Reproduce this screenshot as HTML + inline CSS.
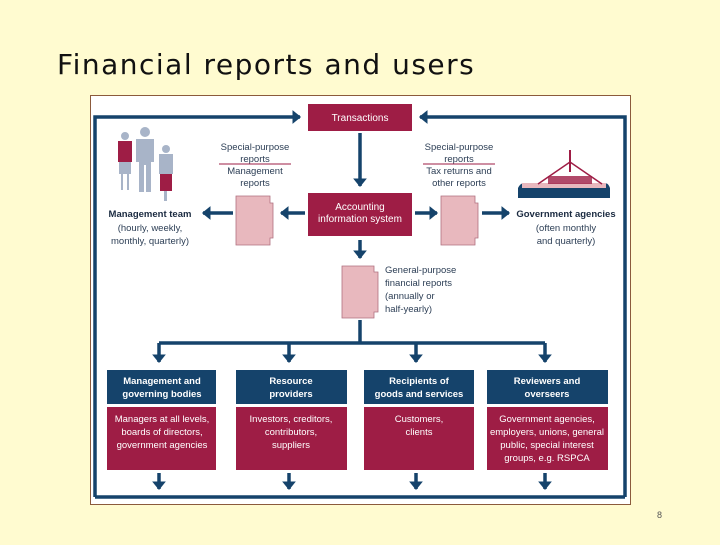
<!DOCTYPE html>
<html><head><meta charset="utf-8"><style>
body{margin:0;width:720px;height:540px;background:#FFFBD0;overflow:hidden;font-family:"Liberation Sans",sans-serif}
</style></head><body>
<svg width="720" height="540" xmlns="http://www.w3.org/2000/svg" font-family="Liberation Sans, sans-serif">
<defs><marker id="a" markerWidth="4" markerHeight="4" refX="2.2" refY="2" orient="auto" markerUnits="strokeWidth"><path d="M0,0 L2.5,2 L0,4 Z" fill="#15436B"/></marker></defs>
<text x="57" y="74" font-size="28" fill="#111" font-family="DejaVu Sans, sans-serif" letter-spacing="1.5">Financial reports and users</text>
<rect x="90.5" y="95.5" width="540" height="409" fill="#fff" stroke="#8B5A3C" stroke-width="1"/>
<g stroke="#15436B" stroke-width="3.5" fill="none">
<polyline points="95,497 95,117 300,117" marker-end="url(#a)"/>
<polyline points="625,497 625,117 420,117" marker-end="url(#a)"/>
<line x1="95" y1="497" x2="625" y2="497"/>
<line x1="360" y1="133" x2="360" y2="186" marker-end="url(#a)"/>
<line x1="305" y1="213" x2="281" y2="213" marker-end="url(#a)"/>
<line x1="233" y1="213" x2="203" y2="213" marker-end="url(#a)"/>
<line x1="415" y1="213" x2="437" y2="213" marker-end="url(#a)"/>
<line x1="482" y1="213" x2="509" y2="213" marker-end="url(#a)"/>
<line x1="360" y1="240" x2="360" y2="258" marker-end="url(#a)"/>
<line x1="360" y1="320" x2="360" y2="343"/>
<line x1="159" y1="343" x2="545" y2="343"/>
<line x1="159" y1="343" x2="159" y2="362" marker-end="url(#a)"/>
<line x1="289" y1="343" x2="289" y2="362" marker-end="url(#a)"/>
<line x1="416" y1="343" x2="416" y2="362" marker-end="url(#a)"/>
<line x1="545" y1="343" x2="545" y2="362" marker-end="url(#a)"/>
<line x1="159" y1="473" x2="159" y2="489" marker-end="url(#a)"/>
<line x1="289" y1="473" x2="289" y2="489" marker-end="url(#a)"/>
<line x1="416" y1="473" x2="416" y2="489" marker-end="url(#a)"/>
<line x1="545" y1="473" x2="545" y2="489" marker-end="url(#a)"/>
</g>
<rect x="308" y="104" width="104" height="27" fill="#9E1D45"/>
<text x="360" y="121" font-size="10" fill="#fff" text-anchor="middle">Transactions</text>
<rect x="308" y="193" width="104" height="43" fill="#9E1D45"/>
<text x="360" y="210" font-size="10" fill="#fff" text-anchor="middle">Accounting</text>
<text x="360" y="222" font-size="10" fill="#fff" text-anchor="middle">information system</text>
<g fill="#E8B8BE" stroke="#B07080" stroke-width="0.8">
<path d="M236,196 H270 V203 H273 V238 H270 V245 H236 Z"/>
<path d="M441,196 H475 V203 H478 V238 H475 V245 H441 Z"/>
<path d="M342,266 H374 V272 H378 V312 H374 V318 H342 Z"/>
</g>
<g font-size="9.5" fill="#2C3E55" text-anchor="middle">
<text x="255" y="150">Special-purpose</text><text x="255" y="162">reports</text>
<line x1="219" y1="164" x2="291" y2="164" stroke="#9E1D45" stroke-width="1"/>
<text x="255" y="174">Management</text><text x="255" y="186">reports</text>
<text x="459" y="150">Special-purpose</text><text x="459" y="162">reports</text>
<line x1="423" y1="164" x2="495" y2="164" stroke="#9E1D45" stroke-width="1"/>
<text x="459" y="174">Tax returns and</text><text x="459" y="186">other reports</text>
<text x="150" y="217" font-weight="bold" fill="#1a2a40">Management team</text>
<text x="150" y="231">(hourly, weekly,</text><text x="150" y="244">monthly, quarterly)</text>
<text x="566" y="217" font-weight="bold" fill="#1a2a40">Government agencies</text>
<text x="566" y="231">(often monthly</text><text x="566" y="244">and quarterly)</text>
</g>
<g font-size="9.5" fill="#2C3E55">
<text x="385" y="273">General-purpose</text><text x="385" y="286">financial reports</text>
<text x="385" y="299">(annually or</text><text x="385" y="312">half-yearly)</text>
</g>
<g>
<circle cx="125" cy="136" r="4" fill="#A8B4C8"/><rect x="118" y="141" width="14" height="21" fill="#9E1D45"/><rect x="119" y="162" width="12" height="12" fill="#A8B4C8"/><rect x="121" y="174" width="2" height="16" fill="#A8B4C8"/><rect x="127" y="174" width="2" height="16" fill="#A8B4C8"/>
<circle cx="145" cy="132" r="5" fill="#A8B4C8"/><path d="M136,139 H154 V162 H151 V192 H146 V165 H144 V192 H139 V162 H136 Z" fill="#A8B4C8"/>
<circle cx="166" cy="149" r="4" fill="#A8B4C8"/><rect x="159" y="154" width="14" height="20" fill="#A8B4C8"/><rect x="160" y="174" width="12" height="17" fill="#9E1D45"/><rect x="164" y="191" width="3" height="10" fill="#A8B4C8"/>
</g>
<g>
<rect x="518" y="188" width="92" height="10" fill="#15436B"/>
<path d="M518,188 Q522,180 528,186 Q534,180 540,188 Z M590,188 Q596,180 602,186 Q607,180 610,188 Z" fill="#15436B"/>
<rect x="522" y="183" width="84" height="5" fill="#E8B8BE"/>
<rect x="548" y="176" width="44" height="8" fill="#9E1D45" opacity="0.8"/>
<path d="M538,184 L570,162 L602,184" fill="none" stroke="#9E1D45" stroke-width="1.5"/>
<rect x="569" y="150" width="2" height="22" fill="#9E1D45"/>
</g>
<g font-weight="bold" font-size="9.5" fill="#fff" text-anchor="middle">
<rect x="107" y="370" width="109" height="34" fill="#15436B"/>
<text x="162" y="384">Management and</text><text x="162" y="397">governing bodies</text>
<rect x="236" y="370" width="111" height="34" fill="#15436B"/>
<text x="291" y="384">Resource</text><text x="291" y="397">providers</text>
<rect x="364" y="370" width="110" height="34" fill="#15436B"/>
<text x="419" y="384">Recipients of</text><text x="419" y="397">goods and services</text>
<rect x="487" y="370" width="121" height="34" fill="#15436B"/>
<text x="547" y="384">Reviewers and</text><text x="547" y="397">overseers</text>
</g>
<g font-size="9.5" fill="#fff" text-anchor="middle">
<rect x="107" y="407" width="109" height="63" fill="#9E1D45"/>
<text x="162" y="422">Managers at all levels,</text><text x="162" y="435">boards of directors,</text><text x="162" y="448">government agencies</text>
<rect x="236" y="407" width="111" height="63" fill="#9E1D45"/>
<text x="291" y="422">Investors, creditors,</text><text x="291" y="435">contributors,</text><text x="291" y="448">suppliers</text>
<rect x="364" y="407" width="110" height="63" fill="#9E1D45"/>
<text x="419" y="422">Customers,</text><text x="419" y="435">clients</text>
<rect x="487" y="407" width="121" height="63" fill="#9E1D45"/>
<text x="547" y="422">Government agencies,</text><text x="547" y="435">employers, unions, general</text><text x="547" y="448">public, special interest</text><text x="547" y="461">groups, e.g. RSPCA</text>
</g>
<text x="657" y="518" font-size="9" fill="#555">8</text>
</svg>
</body></html>
